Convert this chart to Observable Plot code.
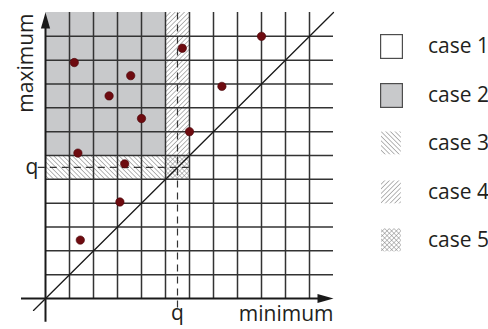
<!DOCTYPE html>
<html><head><meta charset="utf-8">
<script src="https://cdn.jsdelivr.net/npm/d3@7"></script>
<script src="https://cdn.jsdelivr.net/npm/@observablehq/plot@0.6"></script>
<style>
body{margin:0;background:#fff;font-family:"Open Sans",sans-serif;}
#wrap{position:relative;width:488px;height:329px;overflow:hidden;}
#legend{position:absolute;left:380px;top:34px;}
.item{position:relative;display:flex;align-items:center;height:25px;margin-bottom:23.5px;}
.item svg{display:block;overflow:visible}
.item span{position:absolute;left:48px;top:-1px;font-size:21px;color:#231f20;line-height:25px;white-space:nowrap;}
</style></head><body>
<svg width="0" height="0" style="position:absolute">
<defs>
<pattern id="hatchBack" patternUnits="userSpaceOnUse" width="3.3" height="3.3" patternTransform="rotate(-45)">
<rect width="3.3" height="3.3" fill="#fff"/><line x1="0" y1="0" x2="0" y2="3.3" stroke="#7a7a7a" stroke-width="1.1"/></pattern>
<pattern id="hatchFwd" patternUnits="userSpaceOnUse" width="3.3" height="3.3" patternTransform="rotate(45)">
<rect width="3.3" height="3.3" fill="#fff"/><line x1="0" y1="0" x2="0" y2="3.3" stroke="#7a7a7a" stroke-width="1.1"/></pattern>
<pattern id="hatchCross" patternUnits="userSpaceOnUse" width="3.3" height="3.3" patternTransform="rotate(45)">
<rect width="3.3" height="3.3" fill="#fff"/><line x1="0" y1="0" x2="0" y2="3.3" stroke="#7a7a7a" stroke-width="0.9"/><line x1="0" y1="0" x2="3.3" y2="0" stroke="#7a7a7a" stroke-width="0.9"/></pattern>
</defs></svg>
<div id="wrap"><div id="legend"></div></div>
<script>
// threshold q
const q = 5.5;
// case regions (data units)
const regionCase = ["case 2", "case 3", "case 4", "case 5"];
const regionX1 = [0, 0, 5, 5];
const regionX2 = [5, 5, 6, 6];
const regionY1 = [6, 5, 6, 5];
const regionY2 = [12, 6, 12, 6];
// grid line positions
const gridTicks = [1, 2, 3, 4, 5, 6, 7, 8, 9, 10, 11];
// points (minimum, maximum)
const pointMin = [1.2, 3.55, 2.65, 4.0, 1.35, 3.3, 5.7, 6.0, 9.0, 7.35, 3.1, 1.45];
const pointMax = [9.9, 9.35, 8.5, 7.55, 6.1, 5.65, 10.5, 7.0, 11.0, 8.9, 4.05, 2.45];
// legend
const legendCases = ["case 1", "case 2", "case 3", "case 4", "case 5"];
const diagonalEnds = [-0.5, 12];

const fills = {"case 1": "#fff", "case 2": "#c8c9cb", "case 3": "url(#hatchBack)", "case 4": "url(#hatchFwd)", "case 5": "url(#hatchCross)"};
const regions = regionCase.map((c, i) => ({c, x1: regionX1[i], x2: regionX2[i], y1: regionY1[i], y2: regionY2[i]}));
const points = pointMin.map((x, i) => ({x, y: pointMax[i]}));
const axisEnds = [{x: 12, y: 0, r: 90}, {x: 0, y: 12, r: 0}];
const arrowHead = {draw(ctx) { ctx.moveTo(0, 0); ctx.lineTo(4.6, 16); ctx.lineTo(-4.6, 16); ctx.closePath(); }};

const ink = "#1a1a1a", grid = "#333333", txt = "#231f20";
const chart = Plot.plot({
  width: 360, height: 329,
  marginLeft: 45, marginRight: 27, marginTop: 12, marginBottom: 31,
  x: {domain: [0, 12], axis: null},
  y: {domain: [0, 12], axis: null},
  style: {fontFamily: "'Open Sans', sans-serif", fontSize: "21px", background: "transparent", overflow: "visible"},
  marks: [
    ...regionCase.map(c => Plot.rect(regions.filter(r => r.c === c), {x1: "x1", x2: "x2", y1: "y1", y2: "y2", fill: fills[c], inset: 0})),
    Plot.ruleX(gridTicks, {y1: 0, y2: 12, stroke: grid, strokeWidth: 1.5}),
    Plot.ruleY(gridTicks, {x1: 0, x2: 12, stroke: grid, strokeWidth: 1.5}),
    Plot.ruleX([q], {y1: -0.4, y2: 12, stroke: grid, strokeWidth: 1.2, strokeDasharray: "7,5"}),
    Plot.ruleY([q], {x1: -0.3, x2: 6, stroke: grid, strokeWidth: 1.2, strokeDasharray: "7,5"}),
    Plot.ruleY([0], {x1: -1, x2: 11.6, stroke: ink, strokeWidth: 2}),
    Plot.ruleX([0], {y1: -1, y2: 11.6, stroke: ink, strokeWidth: 2}),
    Plot.dot(axisEnds, {x: "x", y: "y", rotate: "r", symbol: arrowHead, fill: ink, stroke: "none"}),
    Plot.line(diagonalEnds, {x: d => d, y: d => d, stroke: ink, strokeWidth: 1.3}),
    Plot.dot(points, {x: "x", y: "y", r: 4.2, fill: "#6e0b10", stroke: "#4a0508", strokeWidth: 0.6}),
    Plot.text([q], {x: d => d, frameAnchor: "bottom", dy: 21, text: () => "q", fill: txt, fontSize: 21}),
    Plot.text([q], {y: d => d, frameAnchor: "left", dx: -20, dy: 0, text: () => "q", fill: txt, fontSize: 21}),
    Plot.text(["minimum"], {frameAnchor: "bottom-right", dy: 22, textAnchor: "end", fill: txt, fontSize: 21}),
    Plot.text(["maximum"], {frameAnchor: "top-left", dx: -27, dy: 1, rotate: -90, textAnchor: "end", fill: txt, fontSize: 21})
  ]
});
document.getElementById("wrap").prepend(chart);

const legend = document.getElementById("legend");
legendCases.forEach(c => {
  const item = document.createElement("div");
  item.className = "item";
  const boxed = c === "case 1" || c === "case 2";
  const w = boxed ? 23 : 21, h = boxed ? 25 : 24;
  item.innerHTML = `<svg width="25" height="25"><rect x="${boxed ? 0.6 : 1}" y="${boxed ? 0.6 : 0.5}" width="${w - 1.2}" height="${h - 1.2}" fill="${fills[c]}" stroke="${boxed ? '#4d4d4d' : 'none'}" stroke-width="1.2"/></svg><span>${c}</span>`;
  legend.appendChild(item);
});
</script>
</body></html>
